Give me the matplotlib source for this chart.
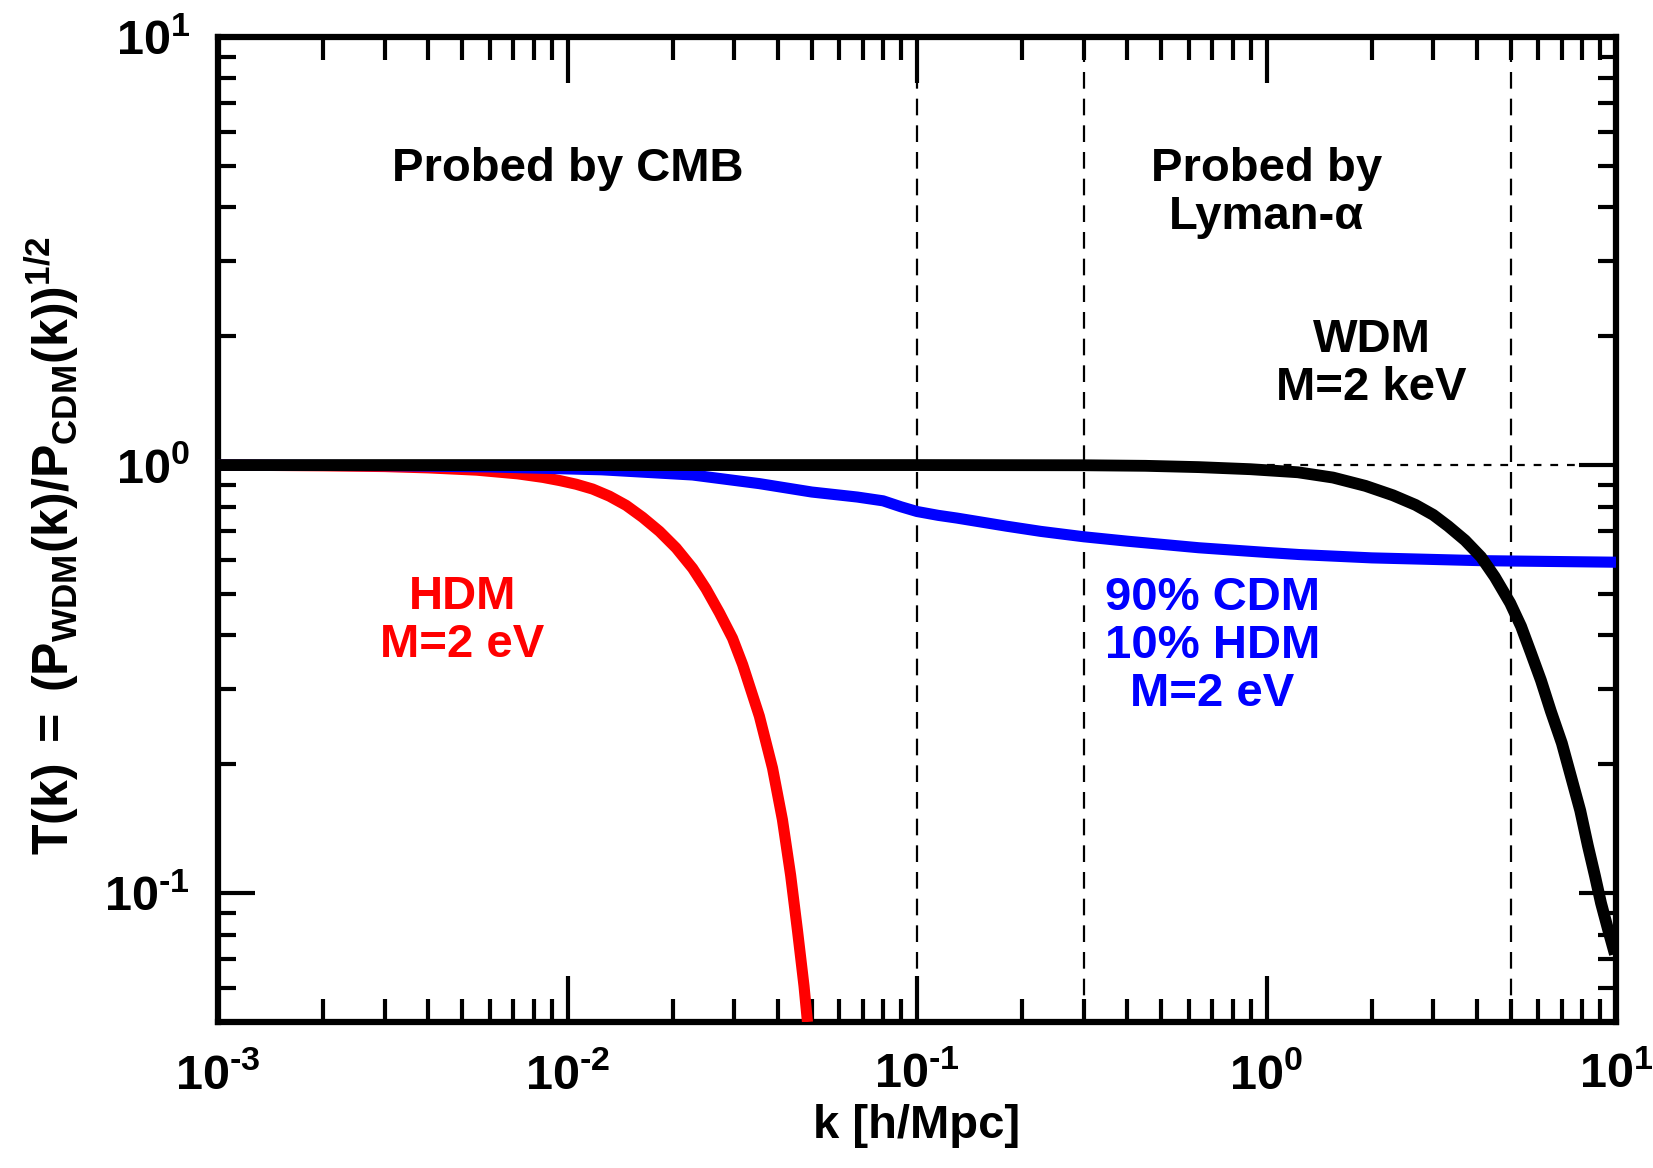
import matplotlib
matplotlib.use("Agg")
import matplotlib.pyplot as plt
import numpy as np

plt.rcParams['font.family'] = ['Liberation Sans', 'DejaVu Sans']
plt.rcParams['font.weight'] = 'bold'
plt.rcParams['mathtext.fontset'] = 'custom'
plt.rcParams['mathtext.rm'] = 'Liberation Sans:bold'
plt.rcParams['mathtext.it'] = 'Liberation Sans:bold'
plt.rcParams['mathtext.bf'] = 'Liberation Sans:bold'
plt.rcParams['mathtext.sf'] = 'Liberation Sans:bold'

# ---- data ----
k_hdm = [0.001, 0.002, 0.003, 0.004, 0.0055, 0.0072, 0.0085, 0.0095, 0.01059, 0.0118,
         0.01318, 0.01472, 0.0164, 0.01833, 0.02046, 0.0228, 0.0249, 0.0272,
         0.02966, 0.0317, 0.0354, 0.0386, 0.0412, 0.0435, 0.0455, 0.0475, 0.0486]
T_hdm = [1.0, 0.996, 0.992, 0.985, 0.973, 0.954, 0.936, 0.920, 0.902, 0.879,
         0.846, 0.805, 0.755, 0.700, 0.64, 0.574, 0.514, 0.452,
         0.394, 0.342, 0.259, 0.196, 0.1485, 0.110, 0.0818, 0.0607, 0.05]

k_mix = [0.001, 0.003, 0.006, 0.0125, 0.0228, 0.0354, 0.05, 0.0675, 0.08,
         0.09, 0.1, 0.115, 0.13, 0.18, 0.226, 0.3, 0.4, 0.5, 0.64, 1.0,
         1.24, 2.0, 4.1, 10.0]
T_mix = [1.0, 0.997, 0.99, 0.975, 0.948, 0.905, 0.865, 0.842, 0.825,
         0.799, 0.779, 0.763, 0.752, 0.72, 0.70, 0.68, 0.664, 0.653, 0.641, 0.625,
         0.618, 0.607, 0.598, 0.593]

k_wdm = [0.001, 0.01, 0.1, 0.3, 0.45, 0.64, 0.9, 1.23, 1.55, 1.92, 2.3, 2.67,
         3.0, 3.31, 3.7, 4.11, 4.5, 4.98, 5.35, 5.71, 6.1, 6.51, 7.0, 7.43,
         7.9, 8.31, 8.7, 9.06, 9.5, 9.93]
T_wdm = [1.0, 1.0, 1.0, 0.999, 0.996, 0.989, 0.978, 0.962, 0.935, 0.894, 0.85, 0.807,
         0.765, 0.72, 0.667, 0.61, 0.548, 0.476, 0.42, 0.364, 0.314, 0.266, 0.224, 0.1875,
         0.156, 0.129, 0.11, 0.0948, 0.082, 0.072]

k_dashed = [0.1, 0.3, 5.0]
k_dotted = [1.0, 10.0]
T_dotted = [1.0, 1.0]
x_ticks = [1e-3, 1e-2, 1e-1, 1e0, 1e1]
x_ticklabels = [r'$10^{\text{-}3}$', r'$10^{\text{-}2}$', r'$10^{\text{-}1}$', r'$10^{0}$', r'$10^{1}$']
y_ticks = [1e-1, 1e0, 1e1]
y_ticklabels = [r'$10^{\text{-}1}$', r'$10^{0}$', r'$10^{1}$']

fig = plt.figure(figsize=(16.53, 11.68), dpi=100)
ax = fig.add_axes([218/1653, 1 - 1022/1168, 1398/1653, 985/1168])

ax.set_xscale('log')
ax.set_yscale('log')
ax.set_xlim(1e-3, 1e1)
ax.set_ylim(0.05, 10)

for kd in k_dashed:
    ax.axvline(kd, color='black', lw=1.6, dashes=(7.5, 4.5), zorder=1)
ax.plot(k_dotted, T_dotted, color='black', lw=1.6, dashes=(3.5, 4.0), zorder=1)

ax.plot(k_hdm, T_hdm, color='#ff0000', lw=8, solid_capstyle='butt',
        solid_joinstyle='round', zorder=3)
ax.plot(k_mix, T_mix, color='#0000ff', lw=8, solid_capstyle='butt',
        solid_joinstyle='round', zorder=3)
ax.plot(k_wdm, T_wdm, color='black', lw=8.5, solid_capstyle='butt',
        solid_joinstyle='round', zorder=4)

fs = 34
ls = 1.12
ax.text(0.01, 4.60, 'Probed by CMB', ha='center', va='baseline', fontsize=fs, fontweight='bold')
ax.text(1.0, 3.56, 'Probed by\nLyman-α', ha='center', va='baseline', fontsize=fs,
        fontweight='bold', linespacing=ls)
ax.text(2.0, 1.42, 'WDM\nM=2 keV', ha='center', va='baseline', fontsize=fs,
        fontweight='bold', linespacing=ls)
ax.text(0.005, 0.356, 'HDM\nM=2 eV', ha='center', va='baseline', fontsize=fs,
        fontweight='bold', color='#ff0000', linespacing=ls)
ax.text(0.7, 0.274, '90% CDM\n10% HDM\nM=2 eV', ha='center', va='baseline', fontsize=fs,
        fontweight='bold', color='#0000ff', linespacing=ls)

ax.set_xticks(x_ticks)
ax.set_xticklabels(x_ticklabels)
ax.set_yticks(y_ticks)
ax.set_yticklabels(y_ticklabels)

ax.tick_params(which='both', direction='in', top=True, right=True, width=3, color='black')
ax.tick_params(axis='x', which='major', length=33, pad=22, labelsize=35)
ax.tick_params(axis='x', which='minor', length=16.5)
ax.tick_params(axis='y', which='major', length=26.5, pad=20, labelsize=35)
ax.tick_params(axis='y', which='minor', length=13)

for s in ax.spines.values():
    s.set_linewidth(4.5)

ax.set_xlabel('k [h/Mpc]', fontsize=34, fontweight='bold', labelpad=4)
ax.set_ylabel(r'$T(k)\;=\;(P_{WDM}(k)/P_{CDM}(k))^{1/2}$', fontsize=36)
ax.yaxis.set_label_coords(-0.097, 0.484)

fig.savefig('out.png', dpi=100)
